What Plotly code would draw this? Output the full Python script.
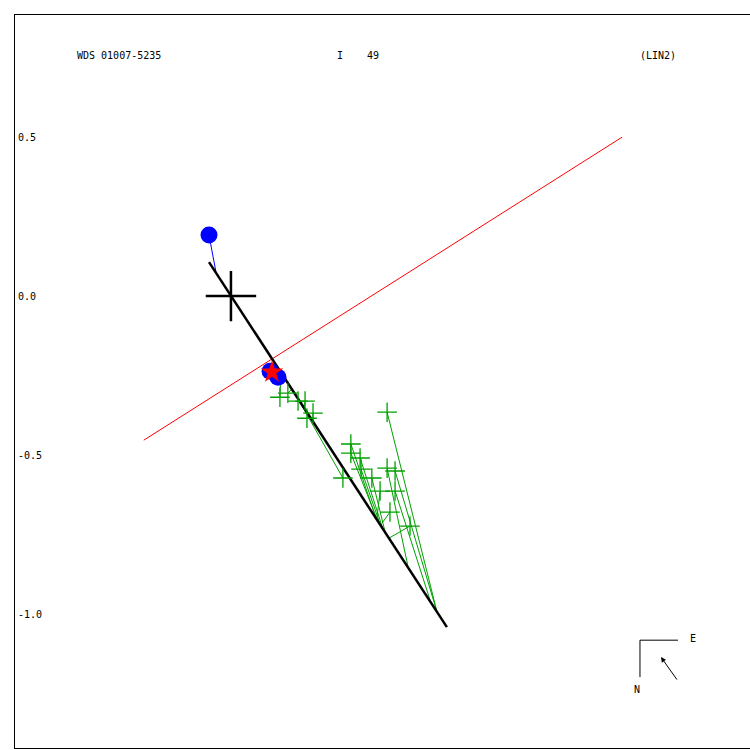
import plotly.graph_objects as go

# Observations (measured positions), arcsec
obs_x = [0.154, 0.179, 0.211, 0.233, 0.258, 0.239, 0.352, 0.377, 0.377, 0.406,
         0.409, 0.443, 0.491, 0.491, 0.516, 0.469, 0.516, 0.500, 0.563]
obs_y = [-0.318, -0.305, -0.330, -0.330, -0.368, -0.384, -0.572, -0.465, -0.494, -0.509,
         -0.544, -0.572, -0.365, -0.541, -0.550, -0.613, -0.613, -0.679, -0.723]
# Predicted positions on the orbit for each observation
pred_x = [0.157, 0.192, 0.214, 0.230, 0.258, 0.245, 0.204, 0.453, 0.462, 0.478,
          0.469, 0.484, 0.648, 0.557, 0.648, 0.459, 0.626, 0.475, 0.497]
pred_y = [-0.239, -0.292, -0.327, -0.352, -0.393, -0.374, -0.311, -0.689, -0.708, -0.733,
          -0.717, -0.739, -0.994, -0.852, -0.994, -0.698, -0.956, -0.714, -0.761]

# Orbit (nearly edge-on) and line of nodes
orbit_x = [-0.069, 0.679]
orbit_y = [0.107, -1.041]
node_x = [-0.274, 1.230]
node_y = [-0.453, 0.500]

# Special points
first_x, first_y = [-0.069], [0.192]
first_pred_x, first_pred_y = [-0.047], [0.075]
blue_x = [0.123, 0.148]
blue_y = [-0.236, -0.255]
star_x, star_y = [0.129], [-0.239]

tick_vals = [0.5, 0.0, -0.5, -1.0]
tick_text = ["0.5", "0.0", "-0.5", "-1.0"]

FONT = "DejaVu Sans Mono"
GREEN = "#00a000"

fig = go.Figure()

# O-C lines
ocx, ocy = [], []
for ox, oy, px, py in zip(obs_x, obs_y, pred_x, pred_y):
    ocx += [ox, px, None]
    ocy += [oy, py, None]
fig.add_trace(go.Scatter(x=ocx, y=ocy, mode="lines",
                         line=dict(color=GREEN, width=1), hoverinfo="skip"))

fig.add_trace(go.Scatter(x=node_x, y=node_y, mode="lines",
                         line=dict(color="red", width=1)))
fig.add_trace(go.Scatter(x=[first_x[0], first_pred_x[0]], y=[first_y[0], first_pred_y[0]],
                         mode="lines", line=dict(color="blue", width=1)))
fig.add_trace(go.Scatter(x=orbit_x, y=orbit_y, mode="lines",
                         line=dict(color="black", width=2.5)))

fig.add_trace(go.Scatter(x=obs_x, y=obs_y, mode="markers",
                         marker=dict(symbol="cross-thin", size=14,
                                     line=dict(color=GREEN, width=1.3))))

fig.add_trace(go.Scatter(x=first_x + blue_x, y=first_y + blue_y, mode="markers",
                         marker=dict(symbol="circle", size=17, color="blue",
                                     line=dict(width=0))))
fig.add_trace(go.Scatter(x=star_x, y=star_y, mode="markers",
                         marker=dict(symbol="star", size=17, color="red",
                                     line=dict(width=0))))
fig.add_trace(go.Scatter(x=[0], y=[0], mode="markers",
                         marker=dict(symbol="cross-thin", size=36,
                                     line=dict(color="black", width=2.5))))

fig.update_layout(
    width=750, height=750,
    margin=dict(l=15, r=0, t=15, b=2, autoexpand=False),
    paper_bgcolor="white", plot_bgcolor="white",
    showlegend=False,
    font=dict(family=FONT, size=10, color="black"),
    xaxis=dict(range=[-0.679, 1.632], showgrid=False, zeroline=False,
               showticklabels=False, ticks="", showline=True, mirror=True,
               linecolor="black", linewidth=1),
    yaxis=dict(range=[-1.421, 0.884], showgrid=False, zeroline=False,
               tickvals=tick_vals, ticktext=tick_text, ticks="",
               ticklabelposition="inside", ticklabelstandoff=2,
               tickfont=dict(family=FONT, size=10, color="black"),
               showline=True, linecolor="black", linewidth=1),
)

def txt(x, y, s, xanchor="left"):
    fig.add_annotation(x=x, y=y, xref="paper", yref="paper", text=s,
                       showarrow=False, xanchor=xanchor, yanchor="middle",
                       font=dict(family=FONT, size=10, color="black"))

txt(0.0816, 0.9441, "WDS 01007-5235")
txt(0.4354, 0.9441, "I    49")
txt(0.8476, 0.9441, "(LIN2)")
txt(0.9156, 0.1499, "E")
txt(0.8463, 0.0804, "N", xanchor="center")

# Compass
fig.add_shape(type="line", xref="paper", yref="paper", x0=0.8503, y0=0.1471,
              x1=0.9020, y1=0.1471, line=dict(color="black", width=1))
fig.add_shape(type="line", xref="paper", yref="paper", x0=0.8503, y0=0.1471,
              x1=0.8503, y1=0.0967, line=dict(color="black", width=1))
fig.add_annotation(x=0.8789, y=0.1240, xref="paper", yref="paper", text="",
                   showarrow=True, ax=17, ay=24, arrowhead=2, arrowsize=1,
                   arrowwidth=1, arrowcolor="black")

fig.write_html("out.html", config={"displayModeBar": False},
               post_script="document.body.style.margin='0';document.body.style.overflow='hidden';")
